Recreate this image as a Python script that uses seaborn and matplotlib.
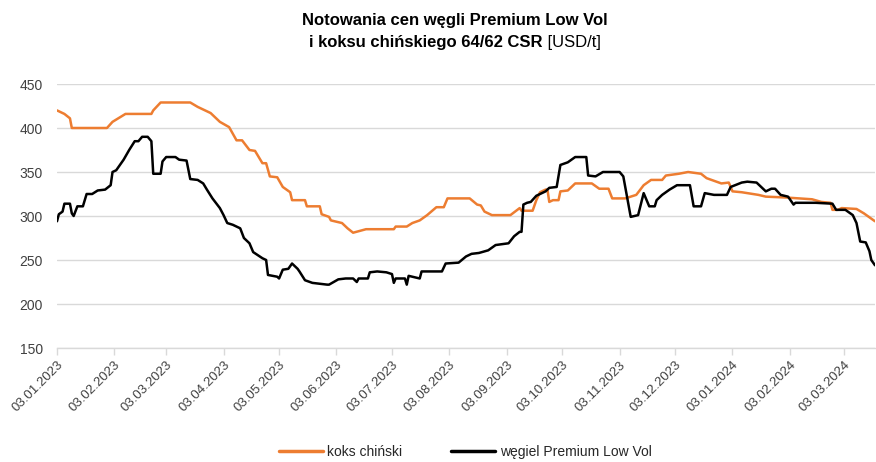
import matplotlib
matplotlib.use("Agg")
import matplotlib.pyplot as plt
import pandas as pd
import seaborn as sns
from matplotlib import font_manager
from matplotlib.lines import Line2D

# ---------------- data ----------------
koks_dates = [
    "2023-01-03", "2023-01-07", "2023-01-10", "2023-01-11", "2023-01-30", "2023-02-02",
    "2023-02-09", "2023-02-23", "2023-02-24", "2023-02-28", "2023-03-16", "2023-03-20",
    "2023-03-27", "2023-04-01", "2023-04-06", "2023-04-10", "2023-04-13", "2023-04-17",
    "2023-04-20", "2023-04-24", "2023-04-26", "2023-04-28", "2023-05-02", "2023-05-05",
    "2023-05-09", "2023-05-10", "2023-05-17", "2023-05-18", "2023-05-25", "2023-05-26",
    "2023-05-30", "2023-05-31", "2023-06-06", "2023-06-09", "2023-06-12", "2023-06-19",
    "2023-07-04", "2023-07-05", "2023-07-11", "2023-07-14", "2023-07-18", "2023-07-22",
    "2023-07-27", "2023-07-31", "2023-08-02", "2023-08-14", "2023-08-18", "2023-08-20",
    "2023-08-22", "2023-08-26", "2023-09-05", "2023-09-10", "2023-09-11", "2023-09-17",
    "2023-09-19", "2023-09-21", "2023-09-24", "2023-09-25", "2023-09-26", "2023-09-28",
    "2023-10-01", "2023-10-02", "2023-10-06", "2023-10-10", "2023-10-19", "2023-10-23",
    "2023-10-28", "2023-10-30", "2023-11-06", "2023-11-12", "2023-11-16", "2023-11-20",
    "2023-11-26", "2023-11-28", "2023-12-05", "2023-12-10", "2023-12-17", "2023-12-20",
    "2023-12-28", "2024-01-01", "2024-01-03", "2024-01-08", "2024-01-17", "2024-01-21",
    "2024-02-01", "2024-02-15", "2024-02-20", "2024-02-25", "2024-02-26", "2024-02-29",
    "2024-03-02", "2024-03-10", "2024-03-14", "2024-03-18", "2024-03-20",
]
koks_values = [
    420, 416, 411, 400, 400, 407,
    416, 416, 420, 429, 429, 424,
    417, 407, 401, 386, 386, 375,
    374, 360, 360, 345, 344, 333,
    327, 318, 318, 311, 311, 302,
    299, 295, 292, 286, 281, 285,
    285, 288, 288, 292, 295, 301,
    310, 310, 320, 320, 313, 312,
    305, 301, 301, 309, 306, 306,
    318, 327, 330, 330, 316, 318,
    318, 328, 329, 337, 337, 331,
    331, 320, 320, 324, 335, 341,
    341, 346, 348, 350, 348, 343,
    337, 338, 328, 327, 324, 322,
    321, 319, 316, 315, 307, 307,
    309, 308, 303, 297, 294,
]

wegiel_dates = [
    "2023-01-03", "2023-01-04", "2023-01-06", "2023-01-07", "2023-01-10", "2023-01-11",
    "2023-01-12", "2023-01-14", "2023-01-17", "2023-01-19", "2023-01-22", "2023-01-25",
    "2023-01-29", "2023-02-01", "2023-02-02", "2023-02-04", "2023-02-08", "2023-02-11",
    "2023-02-14", "2023-02-16", "2023-02-18", "2023-02-21", "2023-02-23", "2023-02-24",
    "2023-02-28", "2023-03-01", "2023-03-03", "2023-03-08", "2023-03-10", "2023-03-14",
    "2023-03-16", "2023-03-20", "2023-03-23", "2023-03-25", "2023-03-28", "2023-04-01",
    "2023-04-03", "2023-04-05", "2023-04-08", "2023-04-12", "2023-04-14", "2023-04-17",
    "2023-04-19", "2023-04-24", "2023-04-26", "2023-04-27", "2023-05-02", "2023-05-03",
    "2023-05-05", "2023-05-08", "2023-05-10", "2023-05-13", "2023-05-14", "2023-05-17",
    "2023-05-21", "2023-05-29", "2023-05-30", "2023-06-04", "2023-06-08", "2023-06-12",
    "2023-06-14", "2023-06-15", "2023-06-20", "2023-06-21", "2023-06-25", "2023-06-30",
    "2023-07-03", "2023-07-04", "2023-07-05", "2023-07-10", "2023-07-11", "2023-07-12",
    "2023-07-18", "2023-07-19", "2023-07-30", "2023-08-01", "2023-08-08", "2023-08-12",
    "2023-08-15", "2023-08-19", "2023-08-24", "2023-08-28", "2023-09-04", "2023-09-07",
    "2023-09-10", "2023-09-11", "2023-09-12", "2023-09-14", "2023-09-16", "2023-09-19",
    "2023-09-24", "2023-09-26", "2023-09-30", "2023-10-02", "2023-10-06", "2023-10-10",
    "2023-10-16", "2023-10-17", "2023-10-21", "2023-10-25", "2023-11-03", "2023-11-05",
    "2023-11-09", "2023-11-13", "2023-11-16", "2023-11-19", "2023-11-22", "2023-11-23",
    "2023-11-26", "2023-11-30", "2023-12-04", "2023-12-11", "2023-12-13", "2023-12-17",
    "2023-12-19", "2023-12-24", "2023-12-31", "2024-01-02", "2024-01-08", "2024-01-11",
    "2024-01-16", "2024-01-21", "2024-01-24", "2024-01-26", "2024-01-29", "2024-02-02",
    "2024-02-05", "2024-02-06", "2024-02-17", "2024-02-26", "2024-02-28", "2024-03-04",
    "2024-03-08", "2024-03-10", "2024-03-12", "2024-03-15", "2024-03-17", "2024-03-18",
    "2024-03-20",
]
wegiel_values = [
    294, 302, 305, 314, 314, 303,
    300, 311, 311, 325, 325, 329,
    330, 335, 350, 352, 364, 375,
    385, 385, 390, 390, 385, 348,
    348, 362, 367, 367, 364, 363,
    342, 341, 337, 330, 320, 309,
    301, 292, 290, 286, 275, 269,
    259, 252, 250, 233, 231, 229,
    239, 240, 246, 240, 237, 227,
    224, 222, 222, 228, 229, 229,
    225, 229, 229, 236, 237, 236,
    234, 224, 229, 229, 222, 232,
    229, 237, 237, 246, 247, 254,
    257, 258, 261, 267, 269, 277,
    282, 282, 313, 315, 316, 323,
    328, 332, 333, 358, 361, 367,
    367, 346, 345, 350, 350, 345,
    299, 301, 326, 311, 311, 318,
    324, 330, 335, 335, 311, 311,
    326, 324, 324, 333, 338, 339,
    338, 328, 331, 331, 324, 322,
    313, 315, 315, 314, 307, 307,
    301, 292, 271, 270, 260, 250,
    244,
]

series_names = ["koks chiński", "węgiel Premium Low Vol"]
series_colors = ["#ED7D31", "#000000"]
y_ticks = [150, 200, 250, 300, 350, 400, 450]
x_tick_dates = [
    "2023-01-03", "2023-02-03", "2023-03-03", "2023-04-03", "2023-05-03",
    "2023-06-03", "2023-07-03", "2023-08-03", "2023-09-03", "2023-10-03",
    "2023-11-03", "2023-12-03", "2024-01-03", "2024-02-03", "2024-03-03",
]
title_line1 = "Notowania cen węgli Premium Low Vol"
title_line2_bold = "i koksu chińskiego 64/62 CSR"
title_line2_unit = " [USD/t]"

# ---------------- plot ----------------
sns.set_theme(style="white")
installed = {f.name for f in font_manager.fontManager.ttflist}
fam = ["Liberation Sans Narrow"] if "Liberation Sans Narrow" in installed else []
plt.rcParams["font.family"] = fam + ["Liberation Sans", "DejaVu Sans"]

df = pd.concat([
    pd.DataFrame({"date": pd.to_datetime(koks_dates), "value": koks_values,
                  "series": series_names[0]}),
    pd.DataFrame({"date": pd.to_datetime(wegiel_dates), "value": wegiel_values,
                  "series": series_names[1]}),
], ignore_index=True)

fig = plt.figure(figsize=(8.76, 4.62), dpi=100)
ax = fig.add_axes([57 / 876, 1 - 348 / 462, 818 / 876, (348 - 84) / 462])

sns.lineplot(data=df, x="date", y="value", hue="series",
             palette=dict(zip(series_names, series_colors)),
             linewidth=1.8, ax=ax, legend=False)

ax.set_xlim(pd.Timestamp("2023-01-03"), pd.Timestamp("2024-03-20"))
ax.set_ylim(150, 450)
ax.set_yticks(y_ticks)
ax.set_yticklabels([str(v) for v in y_ticks], fontsize=10, color="#404040")
ax.set_xticks(pd.to_datetime(x_tick_dates))
ax.set_xticklabels([pd.Timestamp(d).strftime("%d.%m.%Y") for d in x_tick_dates],
                   rotation=45, ha="right", rotation_mode="anchor",
                   fontsize=9.5, color="#404040")
ax.set_xlabel("")
ax.set_ylabel("")

ax.grid(axis="y", color="#d9d9d9", linewidth=1)
ax.grid(axis="x", visible=False)
ax.set_axisbelow(True)
for s in ["left", "right", "top"]:
    ax.spines[s].set_visible(False)
ax.spines["bottom"].set_color("#d9d9d9")
ax.spines["bottom"].set_linewidth(1)
ax.tick_params(axis="x", which="major", direction="out", length=5, width=1,
               color="#d9d9d9", pad=3, bottom=True)
ax.tick_params(axis="y", length=0, pad=10)

# title (two lines, last part non-bold)
fig.text(455 / 876, 1 - 20 / 462, title_line1, ha="center", va="center",
         fontsize=12, fontweight="bold", color="#000000")
t_bold = fig.text(0.5, 1 - 43 / 462, title_line2_bold, ha="right", va="center",
                  fontsize=12, fontweight="bold", color="#000000")
t_unit = fig.text(0.5, 1 - 43 / 462, title_line2_unit, fontsize=12,
                  color="#000000", va="center", ha="left")
fig.canvas.draw()
r = fig.canvas.get_renderer()
bw = t_bold.get_window_extent(renderer=r).width
uw = t_unit.get_window_extent(renderer=r).width
left_px = 455 - (bw + uw) / 2
t_bold.set_x((left_px + bw) / 876)
t_unit.set_x((left_px + bw) / 876)

# legend
handles = [Line2D([0], [0], color=c, linewidth=2.5) for c in series_colors]
fig.legend(handles, series_names, loc="center", bbox_to_anchor=(465 / 876, 1 - 452 / 462),
           ncol=2, frameon=False, fontsize=10, handlelength=3.2, columnspacing=3.5,
           handletextpad=0.3)

fig.savefig("out.png", dpi=100)
